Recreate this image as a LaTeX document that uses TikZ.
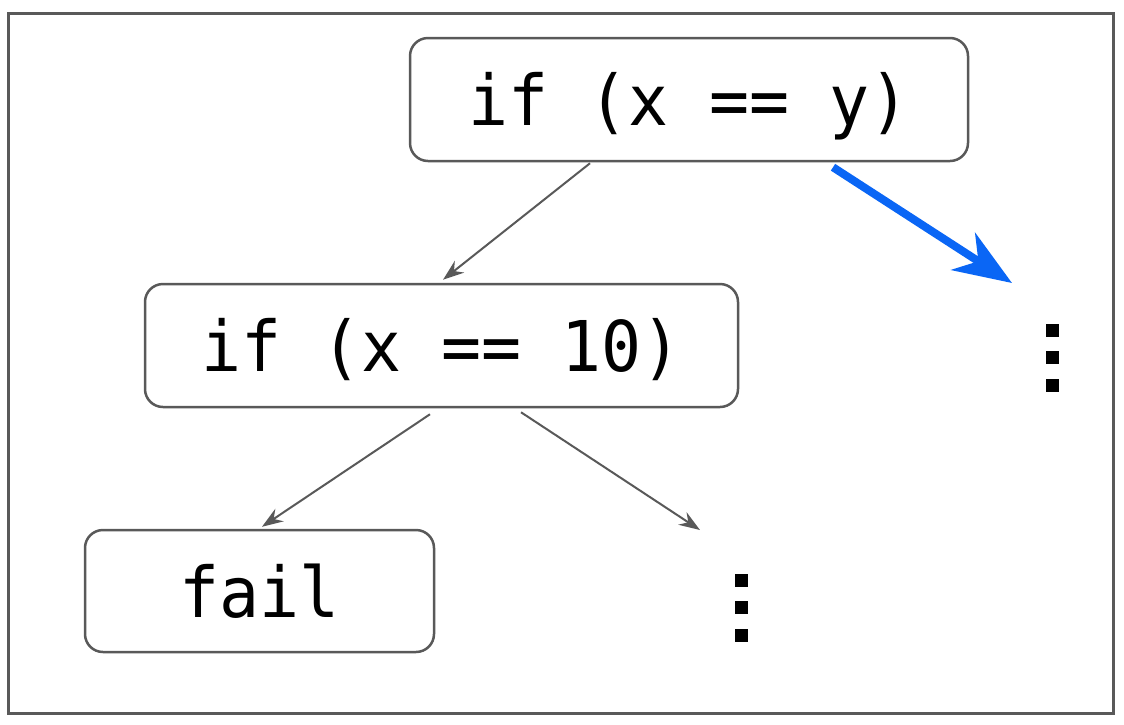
\documentclass[tikz,border=0pt]{standalone}
\usepackage{fontspec}
\setmonofont[FakeStretch=0.95]{DejaVu Sans Mono}
\usetikzlibrary{arrows.meta}
\definecolor{edgegray}{HTML}{595959}
\definecolor{hiblue}{HTML}{0A66F5}
\tikzset{
  codebox/.style={draw=edgegray, line width=2.5pt, rounded corners=18pt, fill=white,
    inner sep=0pt, text height=53pt, text depth=1pt,
    font=\ttfamily\fontsize{70}{84}\selectfont, text=black},
  treearrow/.style={draw=edgegray, line width=2pt, -{Stealth[length=21pt,width=15pt,inset=7pt]}},
  bluearrow/.style={draw=hiblue, line width=8pt, -{Stealth[length=58pt,width=44pt,inset=18pt]}},
  dotsq/.style={fill=black, inner sep=0pt, minimum size=13pt},
}
\begin{document}
\begin{tikzpicture}[x=1pt,y=-1pt]
\useasboundingbox (0,0) rectangle (1124,724);
\draw[edgegray, line width=3pt] (8,13) rectangle (1113,713);

\node[codebox, minimum width=558pt, minimum height=123pt] (n1) at (689,99.5) {if (x == y)};
\node[codebox, minimum width=593pt, minimum height=123pt] (n2) at (441.5,345.5) {if (x == 10)};
\node[codebox, minimum width=349pt, minimum height=122pt] (n3) at (259.5,591) {fail};

% vertical ellipses (bottom and right)
\node[dotsq] (b1) at (741,580) {};
\node[dotsq] (b2) at (741,607.5) {};
\node[dotsq] (b3) at (741,635) {};
\node[dotsq] (r1) at (1052,330) {};
\node[dotsq] (r2) at (1052,357.5) {};
\node[dotsq] (r3) at (1052,385) {};

\coordinate (bt) at (700,530);
\coordinate (rt) at (1012,283);

\draw[treearrow] ([xshift=-99pt,yshift=-1pt]n1.south) -- ([xshift=1.5pt,yshift=3pt]n2.north);
\draw[treearrow] ([xshift=-11.5pt,yshift=-6pt]n2.south) -- ([xshift=2.5pt,yshift=2pt]n3.north);
\draw[treearrow] ([xshift=79.5pt,yshift=-4pt]n2.south) -- (bt);
\draw[bluearrow] ([xshift=144pt,yshift=-5pt]n1.south) -- (rt);
\end{tikzpicture}
\end{document}
